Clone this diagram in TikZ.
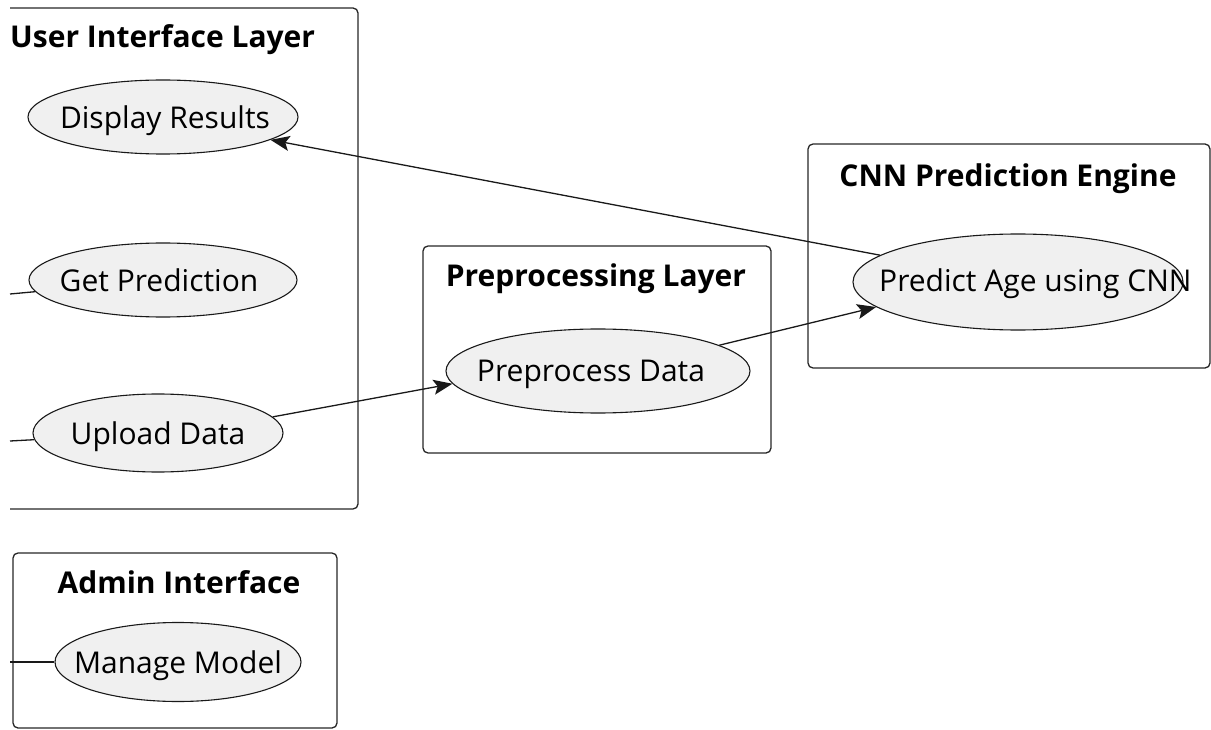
\documentclass[tikz,border=0pt]{standalone}
\usepackage{fontspec}
\setmainfont{Open Sans}
\usetikzlibrary{arrows.meta,shapes.geometric}
\begin{document}
\begin{tikzpicture}[x=1pt,y=-1pt,
  pkg/.style={draw=black!85,line width=1.3pt,rounded corners=5pt},
  pkgtitle/.style={font=\fontsize{30}{36}\selectfont\bfseries,inner sep=0pt,anchor=base},
  usecase/.style={ellipse,draw=black!90,line width=1.1pt,fill=black!6,inner sep=0pt},
  uctext/.style={font=\fontsize{30}{36}\selectfont,inner sep=0pt,anchor=base},
  link/.style={draw=black!90,line width=1.3pt},
  flow/.style={link,-{Stealth[length=19pt,width=15pt,inset=4pt]}}
]
\useasboundingbox (0,0) rectangle (1211,730);

% package frames
\draw[pkg] (10,8) -- (358,8) -- (358,509) -- (10,509);
\draw[pkg] (423,246) rectangle (771,453);
\draw[pkg] (808,144) rectangle (1210,368);
\draw[pkg] (13,553) rectangle (337,728);

% package titles
\node[pkgtitle,anchor=base west] (uiT) at (10,48) {User Interface Layer};
\node[pkgtitle] (ppT) at (596,287) {Preprocessing Layer};
\node[pkgtitle] (cnnT) at (1008,187) {CNN Prediction Engine};
\node[pkgtitle] (adT) at (179,593) {Admin Interface};

% use cases
\node[usecase,minimum width=270pt,minimum height=74pt] (dr) at (163,117) {};
\node[uctext] (drT) at (165,129) {Display Results};
\node[usecase,minimum width=268pt,minimum height=74pt] (gp) at (163,280) {};
\node[uctext] (gpT) at (159,292) {Get Prediction};
\node[usecase,minimum width=250pt,minimum height=78pt] (ud) at (158,433) {};
\node[uctext] (udT) at (158,444) {Upload Data};
\node[usecase,minimum width=304pt,minimum height=84pt] (pp) at (598,371) {};
\node[uctext] (ppT2) at (591,381) {Preprocess Data};
\node[usecase,minimum width=330pt,minimum height=96pt] (pa) at (1018,282) {};
\node[uctext,anchor=base west] (paT) at (879,291) {Predict Age using CNN};
\node[usecase,minimum width=246pt,minimum height=79pt] (mm) at (178,662) {};
\node[uctext] (mmT) at (178,673) {Manage Model};

% actor stubs entering from the left
\coordinate (gpL) at (10,294);
\coordinate (udL) at (10,441);
\coordinate (mmL) at (10,662);
\draw[link] (gpL) -- (gp);
\draw[link] (udL) -- (ud);
\draw[link] (mmL) -- (mm);

% data flow
\draw[flow] (ud.8) -- (pp.185);
\draw[flow] (pp.12) -- (pa.190);
\draw[flow] (pa.169) -- (dr.348);
\end{tikzpicture}
\end{document}
